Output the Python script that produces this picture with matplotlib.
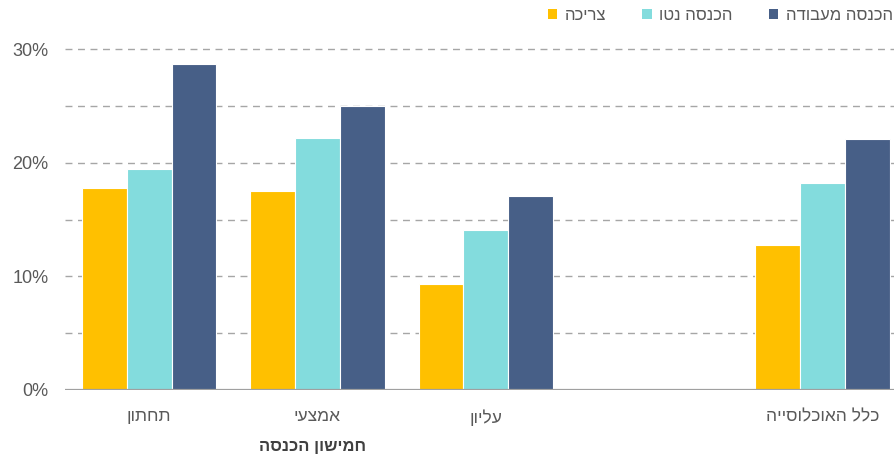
import numpy as np
import matplotlib
matplotlib.use("Agg")
import matplotlib.pyplot as plt
from matplotlib.patches import Patch

plt.rcParams['font.family'] = ['Liberation Sans', 'DejaVu Sans']

categories = ['תחתון', 'אמצעי', 'עליון', 'כלל האוכלוסייה']
series_names = ['צריכה', 'הכנסה נטו', 'הכנסה מעבודה']
consumption = [17.8, 17.5, 9.3, 12.8]
net_income = [19.5, 22.2, 14.1, 18.2]
work_income = [28.7, 25.0, 17.1, 22.1]
yticks = [0, 10, 20, 30]
ytick_labels = ['0%', '10%', '20%', '30%']
xlabel = 'חמישון הכנסה'

colors = ['#FFC000', '#83DCDD', '#475F87']
text_color = '#595959'


def rtl(s):
    return s[::-1]


fig = plt.figure(figsize=(8.94, 4.55), dpi=100)
left = 65 / 894
bottom = 1 - 389.7 / 455
top = 1 - 26.8 / 455
ax = fig.add_axes([left, bottom, 1 - left, top - bottom])

n = len(categories)
x = np.arange(n) + (np.arange(n) >= 3)  # empty slot before the total group
w = 0.266
for i, (vals, c) in enumerate(zip([consumption, net_income, work_income], colors)):
    ax.bar(x + (i - 1) * w, vals, width=w, color=c, edgecolor='white',
           linewidth=0.8, zorder=3)

ax.set_ylim(0, 32)
ax.set_xlim(-0.5, -0.5 + (894 - 65) / 168.3)

ax.set_yticks(yticks)
ax.set_yticklabels(ytick_labels)
for yv in [5, 10, 15, 20, 25, 30]:
    ax.axhline(yv, color='#A6A6A6', linestyle=(0, (5, 4)), linewidth=1.0, zorder=1)
ax.axhline(0, color='#A0A0A0', linewidth=1.6, zorder=4)

ax.set_xticks(x)
ax.set_xticklabels([rtl(c) for c in categories])
ax.tick_params(axis='both', length=0, labelsize=12.5, colors=text_color)
ax.tick_params(axis='x', pad=14)
ax.tick_params(axis='y', pad=12, labelsize=13)
for s in ax.spines.values():
    s.set_visible(False)

fig.text(313 / 894, 1 - 446 / 455, rtl(xlabel), ha='center', va='center',
         fontsize=12, fontweight='bold', color='#404040')

handles = [Patch(facecolor=c, edgecolor='none') for c in colors]
fig.legend(handles, [rtl(s) for s in series_names], loc='center right',
           bbox_to_anchor=(0.999, 1 - 15 / 455), ncol=3, frameon=False,
           fontsize=12, handlelength=0.55, handleheight=0.55,
           handletextpad=0.45, columnspacing=2.2, labelcolor=text_color,
           borderaxespad=0, borderpad=0)

fig.savefig('out.png', dpi=100)
